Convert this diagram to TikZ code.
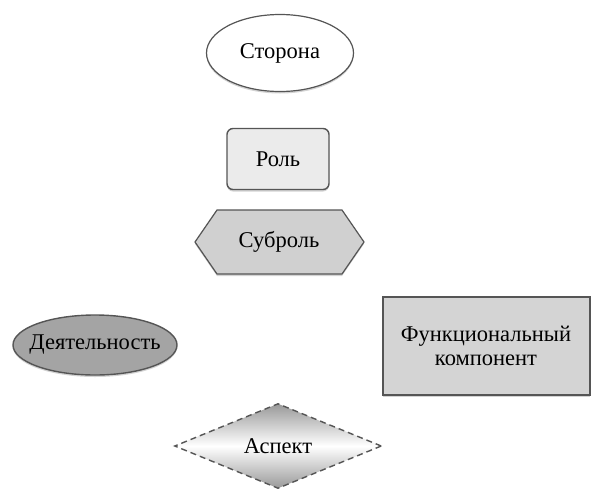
\documentclass[tikz,border=0pt]{standalone}
\usepackage{fontspec}
\setmainfont{Liberation Serif}
\usetikzlibrary{shapes.geometric,shadows}

\definecolor{edge}{HTML}{555555}
\definecolor{rolefill}{HTML}{EBEBEB}
\definecolor{subfill}{HTML}{D0D0D0}
\definecolor{actfill}{HTML}{A4A4A4}
\definecolor{compfill}{HTML}{D4D4D4}

\tikzset{
  label text/.style={font=\fontsize{22.5}{23.5}\selectfont, text=black, align=center},
  soft shadow/.style={drop shadow={shadow xshift=0pt, shadow yshift=-2pt, opacity=0.35, fill=gray}},
  party/.style={label text, ellipse, draw=edge, line width=1.2pt, fill=white, soft shadow,
    minimum width=147pt, minimum height=77pt, inner sep=0pt},
  rolebox/.style={label text, rectangle, rounded corners=6pt, draw=edge, line width=1.4pt,
    fill=rolefill, soft shadow, minimum width=102pt, minimum height=61pt, inner sep=0pt},
  subrolebox/.style={draw=edge, line width=1.2pt, fill=subfill, soft shadow},
  activity/.style={ellipse, draw=edge, line width=1.4pt, fill=actfill, soft shadow,
    minimum width=164pt, minimum height=60pt, inner sep=0pt},
  component/.style={label text, rectangle, draw=edge, line width=2pt, fill=compfill, soft shadow,
    minimum width=207pt, minimum height=98pt, inner sep=0pt},
  aspectbox/.style={label text, diamond, draw=edge, line width=1.4pt, dash pattern=on 6pt off 4pt,
    top color=gray!80, bottom color=gray!80, middle color=white,
    minimum width=207pt, minimum height=85pt, inner sep=0pt, aspect=2.4},
}

\begin{document}
\begin{tikzpicture}[x=1pt,y=-1pt]
  \useasboundingbox (0,0) rectangle (601,490);

  % party
  \node[party] (party) at (280,53) {Сторона};

  % role
  \node[rolebox] (role) at (278,159) {Роль};

  % subrole: hexagon outline around its label
  \coordinate (subc) at (279,242);
  \draw[subrolebox]
    ([xshift=-84pt]subc) -- ([xshift=-62pt,yshift=32pt]subc) -- ([xshift=63pt,yshift=32pt]subc)
    -- ([xshift=85pt]subc) -- ([xshift=63pt,yshift=-32pt]subc) -- ([xshift=-62pt,yshift=-32pt]subc)
    -- cycle;
  \node[label text] (subrole) at (subc) {Суброль};

  % activity: the label is wider than the ellipse allows, so it sits on top
  \node[activity] (activity) at (95,345) {};
  \node[label text] (activitytext) at (activity.center) {Деятельность};

  % functional component
  \node[component] (component) at (486,346) {Функциональный\\компонент};

  % aspect
  \node[aspectbox] (aspect) at (278,446) {Аспект};
\end{tikzpicture}
\end{document}
